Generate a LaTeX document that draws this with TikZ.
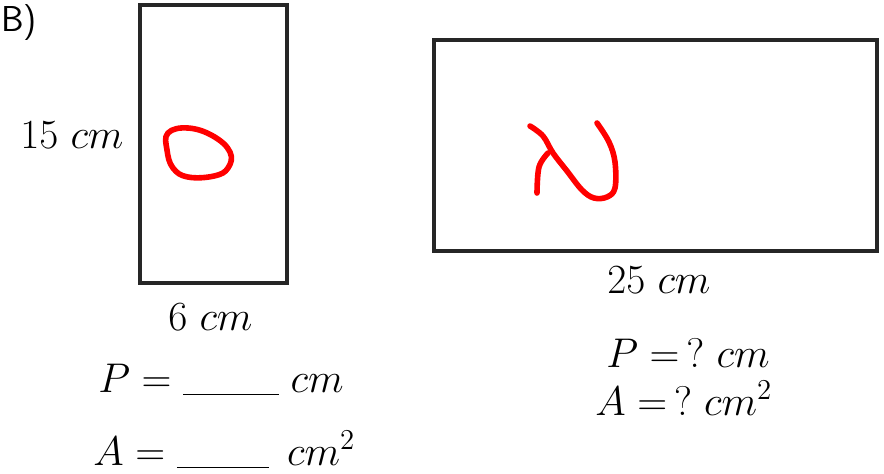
\documentclass[tikz,border=0pt]{standalone}
\begin{document}
\begin{tikzpicture}[x=0.5pt,y=-0.5pt,
  lbl/.style={anchor=base west,inner sep=0pt,font=\fontsize{20}{24}\selectfont},
  box/.style={draw=black!85,line width=2pt},
  pen/.style={draw=red,line width=2.8pt,line cap=round,line join=round}]
\useasboundingbox (0,0) rectangle (884,473);
% left figure
\node[lbl,font=\fontsize{18}{22}\selectfont] (B) at (1,31) {\sffamily B)};
\draw[box] (140,5) rectangle (287,283);
\node[lbl] (h15) at (20,148) {$15\ cm$};
\node[lbl] (w6) at (168,330) {$6\ cm$};
\node[lbl] (P1) at (98,392) {$P=\underline{\hspace{48pt}}\; cm$};
\node[lbl] (A1) at (93,465) {$A=\underline{\hspace{46pt}}\;\, cm^2$};
\draw[pen] plot[smooth cycle,tension=0.7] coordinates {(168,133) (188,128) (213,136) (230,152) (228,168) (214,176) (188,177) (173,168) (167,150)};
% right figure
\draw[box] (434,40) rectangle (877,251);
\node[lbl] (w25) at (607,293) {$25\ cm$};
\node[lbl] (P2) at (606,367) {$P=\,?\ cm$};
\node[lbl] (A2) at (595,415) {$A=\,?\ cm^2$};
\draw[pen] plot[smooth,tension=0.6] coordinates {(530,126) (543,136) (553,153) (567,171) (582,190) (594,198) (607,197) (615,188) (615,162) (609,142) (597,123)};
\draw[pen] plot[smooth,tension=0.6] coordinates {(548,153) (539,167) (537,193)};
\end{tikzpicture}
\end{document}
